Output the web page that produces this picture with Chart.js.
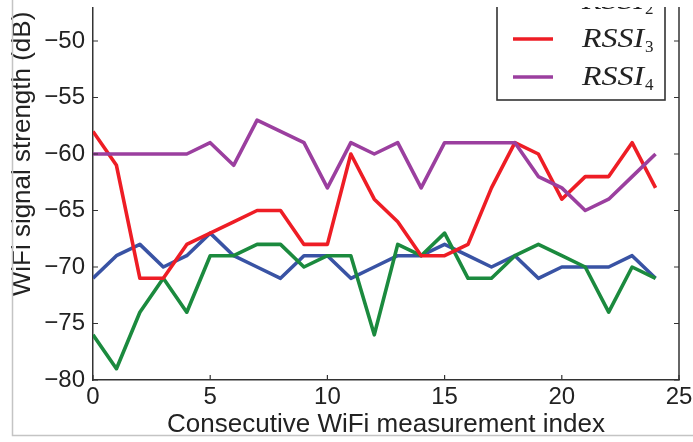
<!DOCTYPE html>
<html>
<head>
<meta charset="utf-8">
<script src="https://cdn.jsdelivr.net/npm/chart.js@4"></script>
<style>
  html, body { margin: 0; padding: 0; background: #fff; }
  #wrap { position: relative; width: 693px; height: 442px; overflow: hidden; background: #fff; }
  #c { position: absolute; left: 0; top: -80px; }
</style>
</head>
<body>
<div id="wrap"><canvas id="c" width="693" height="522"></canvas></div>
<script>
// ---- data ----
const measurementIndex = [0,1,2,3,4,5,6,7,8,9,10,11,12,13,14,15,16,17,18,19,20,21,22,23,24];
const rssi1 = [-71,-69,-68,-70,-69,-67,-69,-70,-71,-69,-69,-71,-70,-69,-69,-68,-69,-70,-69,-71,-70,-70,-70,-69,-71];
const rssi2 = [-76,-79,-74,-71,-74,-69,-69,-68,-68,-70,-69,-69,-76,-68,-69,-67,-71,-71,-69,-68,-69,-70,-74,-70,-71];
const rssi3 = [-58,-61,-71,-71,-68,-67,-66,-65,-65,-68,-68,-60,-64,-66,-69,-69,-68,-63,-59,-60,-64,-62,-62,-59,-63];
const rssi4 = [-60,-60,-60,-60,-60,-59,-61,-57,-58,-59,-63,-59,-60,-59,-63,-59,-59,-59,-59,-62,-63,-65,-64,-62,-60];
const seriesNames = ['RSSI_1','RSSI_2','RSSI_3','RSSI_4'];
const xTicks = [0,5,10,15,20,25];
const yTicks = [-80,-75,-70,-65,-60,-55,-50,-45,-40];

const colors = ['#3953a4','#1b8a3e','#ee1d25','#9b3f9f'];
const seriesValues = [rssi1, rssi2, rssi3, rssi4];

const datasets = seriesValues.map((vals, i) => ({
  label: seriesNames[i],
  data: vals.map((v, k) => ({x: measurementIndex[k], y: v})),
  borderColor: colors[i],
  backgroundColor: colors[i],
  borderWidth: 3.6,
  pointRadius: 0,
  pointHoverRadius: 0,
  tension: 0,
  fill: false,
  borderJoinStyle: 'round',
  borderCapStyle: 'butt',
  order: 4 - i
}));

const minus = v => String(v).replace('-', '\u2212');

const framePlugin = {
  id: 'framePlugin',
  afterDatasetsDraw(chart) {
    const {ctx, chartArea: a, scales} = chart;
    ctx.save();
    // right axis line
    ctx.strokeStyle = '#333';
    ctx.lineWidth = 1.5;
    ctx.beginPath();
    ctx.moveTo(a.right, a.top); ctx.lineTo(a.right, a.bottom);
    ctx.stroke();
    // inward ticks
    ctx.lineWidth = 1.2;
    ctx.beginPath();
    yTicks.forEach(v => {
      const y = scales.y.getPixelForValue(v);
      ctx.moveTo(a.left, y); ctx.lineTo(a.left + 5, y);
      ctx.moveTo(a.right, y); ctx.lineTo(a.right - 5, y);
    });
    xTicks.forEach(v => {
      const x = scales.x.getPixelForValue(v);
      ctx.moveTo(x, a.bottom); ctx.lineTo(x, a.bottom - 5);
      ctx.moveTo(x, a.top); ctx.lineTo(x, a.top + 5);
    });
    ctx.stroke();

    // legend
    const L = 497, R = 665, T = 18, B = 180;
    ctx.fillStyle = '#fff';
    ctx.fillRect(L, T, R - L, B - T);
    ctx.strokeStyle = '#333';
    ctx.lineWidth = 1.6;
    ctx.strokeRect(L, T, R - L, B - T);
    chart.data.datasets.forEach((ds, i) => {
      const yLine = 43 + i * 38;
      ctx.strokeStyle = ds.borderColor;
      ctx.lineWidth = 3.6;
      ctx.beginPath();
      ctx.moveTo(513, yLine); ctx.lineTo(553, yLine);
      ctx.stroke();
      const [base, sub] = ds.label.split('_');
      ctx.fillStyle = '#222';
      ctx.textBaseline = 'alphabetic';
      ctx.textAlign = 'left';
      ctx.font = 'italic 27px "Liberation Serif"';
      const w = ctx.measureText(base).width;
      const sx = 62 / w;
      ctx.save();
      ctx.translate(582, yLine + 8);
      ctx.scale(sx, 1);
      ctx.fillText(base, 0, 0);
      ctx.restore();
      ctx.font = '17px "Liberation Serif"';
      ctx.fillText(sub, 582 + 62 + 1, yLine + 13);
    });
    ctx.restore();
  },
  afterDraw(chart) {
    const {ctx} = chart;
    ctx.save();
    // the reference picture is cropped: blank strip at its top
    ctx.fillStyle = '#fff';
    ctx.fillRect(0, 0, chart.width, 87);
    ctx.strokeStyle = '#c4c4c4';
    ctx.lineWidth = 1.5;
    ctx.beginPath();
    ctx.moveTo(12.5, 0); ctx.lineTo(12.5, 515.5); ctx.lineTo(693, 515.5);
    ctx.stroke();
    ctx.restore();
  }
};

new Chart(document.getElementById('c'), {
  type: 'line',
  data: { datasets },
  plugins: [framePlugin],
  options: {
    responsive: false,
    animation: false,
    devicePixelRatio: 1,
    layout: { padding: { left: 0, right: 14, top: 8, bottom: 0 } },
    plugins: { legend: { display: false }, tooltip: { enabled: false } },
    scales: {
      x: {
        type: 'linear', min: 0, max: 25,
        afterBuildTicks: s => { s.ticks = xTicks.map(v => ({value: v})); },
        afterFit: s => { s.height = 62; s.paddingLeft = 0; s.paddingRight = 0; },
        grid: { display: false, drawTicks: false },
        border: { display: true, color: '#333', width: 1.5 },
        ticks: { font: { family: '"Liberation Sans", Arial, sans-serif', size: 24 }, color: '#222', padding: 3, maxRotation: 0, autoSkip: false },
        title: { display: true, text: 'Consecutive WiFi measurement index', color: '#222',
                 font: { family: '"Liberation Sans", Arial, sans-serif', size: 26 }, padding: { top: 0, bottom: 2 } }
      },
      y: {
        type: 'linear', min: -80, max: -40,
        afterBuildTicks: s => { s.ticks = yTicks.map(v => ({value: v})); },
        afterFit: s => { s.width = 93; s.paddingTop = 0; s.paddingBottom = 0; },
        grid: { display: false, drawTicks: false },
        border: { display: true, color: '#333', width: 1.5 },
        ticks: { font: { family: '"Liberation Sans", Arial, sans-serif', size: 24 }, color: '#222', padding: 8, callback: minus },
        title: { display: true, text: 'WiFi signal strength (dB)', color: '#222',
                 font: { family: '"Liberation Sans", Arial, sans-serif', size: 26 }, padding: { top: 7, bottom: 0 } }
      }
    }
  }
});
</script>
</body>
</html>
